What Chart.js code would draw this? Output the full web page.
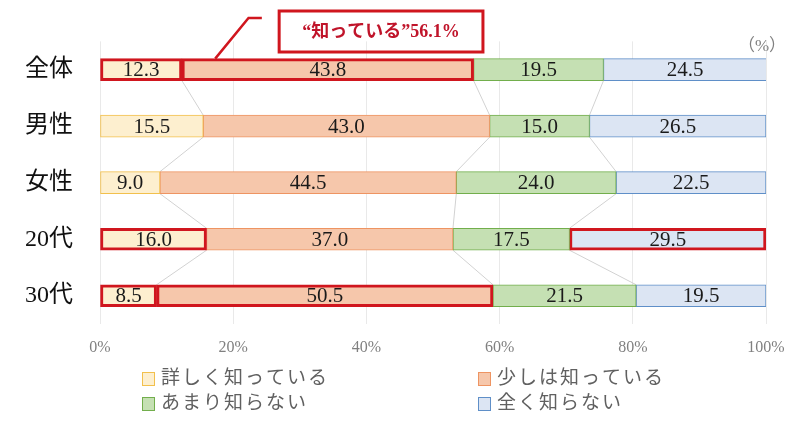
<!DOCTYPE html>
<html>
<head>
<meta charset="utf-8">
<title>認知度</title>
<script src="https://cdn.jsdelivr.net/npm/chart.js@4.4.0/dist/chart.umd.min.js"></script>
<style>
body {
	margin: 0;
	background: #fff;
}
.chart-container {
	width: 800px;
	height: 426px;
	position: relative;
}
</style>
</head>
<body>
<div class="chart-container">
	<canvas id="chart"></canvas>
</div>
<script>
const categories = ['全体', '男性', '女性', '20代', '30代'];
const seriesNames = ['詳しく知っている', '少しは知っている', 'あまり知らない', '全く知らない'];
const kuwashiku = [12.3, 15.5, 9.0, 16.0, 8.5];
const sukoshi = [43.8, 43.0, 44.5, 37.0, 50.5];
const amari = [19.5, 15.0, 24.0, 17.5, 21.5];
const mattaku = [24.5, 26.5, 22.5, 29.5, 19.5];
const xTicks = [0, 20, 40, 60, 80, 100];
// segments framed in red: [category index, series index]
const highlighted = [[0, 0], [0, 1], [3, 0], [3, 3], [4, 0], [4, 1]];

const fills = ['#FDEFCF', '#F6C7AB', '#C5E0B3', '#DCE5F3'];
const edges = ['#F2C04C', '#EE9462', '#72AE4C', '#5F8FC8'];
const RED = '#D0161E';
const SERIF = '"Liberation Serif", "Noto Sans CJK JP", serif';

const seriesValues = [kuwashiku, sukoshi, amari, mattaku];

function isHi(c, s) {
	return highlighted.some(h => h[0] === c && h[1] === s);
}

const datasets = seriesValues.map((vals, s) => ({
	label: seriesNames[s],
	data: vals,
	backgroundColor: fills[s],
	borderColor: vals.map((v, c) => isHi(c, s) ? RED : edges[s]),
	borderWidth: vals.map((v, c) => isHi(c, s) ? 3 : 1),
	borderSkipped: false,
	barThickness: 22
}));

const extras = {
	id: 'extras',
	beforeDatasetsDraw(chart) {
		// series lines between bars
		const ctx = chart.ctx;
		const x = chart.scales.x;
		ctx.save();
		ctx.strokeStyle = '#d2d2d2';
		ctx.lineWidth = 1;
		for (let c = 0; c < categories.length - 1; c++) {
			const a = chart.getDatasetMeta(0).data[c];
			const b = chart.getDatasetMeta(0).data[c + 1];
			let cumA = 0, cumB = 0;
			for (let s = 0; s < 3; s++) {
				cumA += seriesValues[s][c];
				cumB += seriesValues[s][c + 1];
				ctx.beginPath();
				ctx.moveTo(x.getPixelForValue(cumA), a.y + a.height / 2);
				ctx.lineTo(x.getPixelForValue(cumB), b.y - b.height / 2);
				ctx.stroke();
			}
		}
		ctx.restore();
	},
	afterDatasetsDraw(chart) {
		const ctx = chart.ctx;
		ctx.save();
		// value labels
		ctx.font = '21px ' + SERIF;
		ctx.fillStyle = '#1a1a1a';
		ctx.textAlign = 'center';
		ctx.textBaseline = 'middle';
		chart.data.datasets.forEach((ds, s) => {
			chart.getDatasetMeta(s).data.forEach((bar, c) => {
				const cx = (bar.x + bar.base) / 2;
				ctx.fillText(ds.data[c].toFixed(1), cx, bar.y + 1);
			});
		});

		// callout
		const x = chart.scales.x;
		const top = chart.getDatasetMeta(0).data[0];
		const y0 = top.y - top.height / 2;
		ctx.strokeStyle = RED;
		ctx.lineWidth = 2.5;
		ctx.beginPath();
		ctx.moveTo(x.getPixelForValue(17.3), y0);
		ctx.lineTo(x.getPixelForValue(22.3), 18);
		ctx.lineTo(x.getPixelForValue(24.3), 18);
		ctx.stroke();
		const bx1 = x.getPixelForValue(26.9), bx2 = x.getPixelForValue(57.5);
		ctx.lineWidth = 3;
		ctx.strokeRect(bx1, 11, bx2 - bx1, 41);
		const known = (kuwashiku[0] + sukoshi[0]).toFixed(1);
		ctx.fillStyle = '#C0142A';
		ctx.font = 'bold 18px ' + SERIF;
		ctx.fillText('“知っている”' + known + '%', (bx1 + bx2) / 2, 32);

		// unit
		ctx.fillStyle = '#808080';
		ctx.font = '17px ' + SERIF;
		ctx.fillText('（%）', chart.chartArea.right - 4, 47);
		ctx.restore();
	},
	afterDraw(chart) {
		const ctx = chart.ctx;
		ctx.save();
		ctx.font = '19px ' + SERIF;
		ctx.textBaseline = 'middle';
		ctx.textAlign = 'left';
		ctx.letterSpacing = '2px';
		seriesNames.forEach((name, s) => {
			const lx = s % 2 === 0 ? 142 : 478;
			const ly = s < 2 ? 379 : 404;
			ctx.fillStyle = fills[s];
			ctx.fillRect(lx, ly - 7, 13, 14);
			ctx.strokeStyle = edges[s];
			ctx.lineWidth = 1;
			ctx.strokeRect(lx + 0.5, ly - 6.5, 12, 13);
			ctx.fillStyle = '#606060';
			ctx.fillText(name, lx + 19, ly);
		});
		ctx.restore();
	}
};

new Chart(document.getElementById('chart'), {
	type: 'bar',
	data: {
		labels: categories,
		datasets: datasets
	},
	options: {
		indexAxis: 'y',
		responsive: true,
		maintainAspectRatio: false,
		animation: false,
		layout: {
			padding: { top: 41, right: 34, left: 0, bottom: 0 }
		},
		plugins: {
			legend: { display: false },
			tooltip: { enabled: false }
		},
		scales: {
			x: {
				stacked: true,
				min: 0,
				max: 100,
				afterBuildTicks: scale => {
					scale.ticks = xTicks.map(v => ({ value: v }));
				},
				afterFit: scale => { scale.height = 102; },
				grid: { color: '#e9e9e9', drawTicks: false },
				border: { display: false },
				ticks: {
					padding: 14,
					color: '#808080',
					font: { size: 16, family: SERIF },
					callback: v => v + '%'
				}
			},
			y: {
				stacked: true,
				afterFit: scale => { scale.width = 100; },
				grid: { display: false, drawTicks: false },
				border: { display: false },
				ticks: {
					padding: 27,
					color: '#111',
					font: { size: 24, family: SERIF }
				}
			}
		}
	},
	plugins: [extras]
});
</script>
</body>
</html>
